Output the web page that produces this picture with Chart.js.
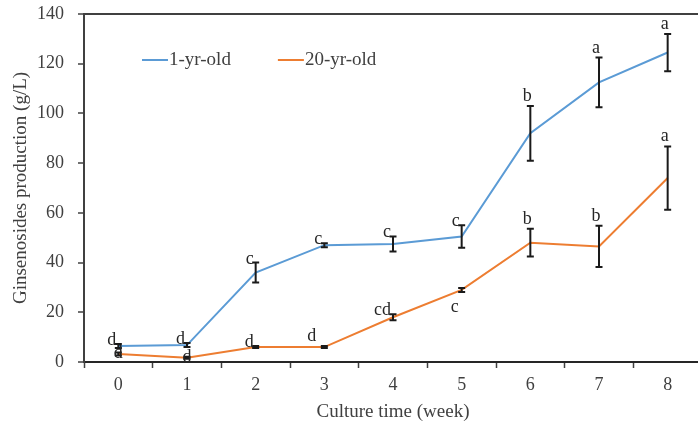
<!DOCTYPE html>
<html>
<head>
<meta charset="utf-8">
<script src="https://cdn.jsdelivr.net/npm/chart.js"></script>
<style>
  html, body { margin: 0; padding: 0; background: #fff; overflow: hidden; }
  #wrap { width: 704px; height: 426px; }
</style>
</head>
<body>
<div id="wrap"><canvas id="growthChart" width="704" height="426"></canvas></div>
<script>
// weeks of culture
const weeks = ['0', '1', '2', '3', '4', '5', '6', '7', '8'];

// 1-yr-old roots
const young = [6.4, 6.8, 36, 47, 47.5, 50.5, 92, 112.5, 124.5];
const youngErr = [0.8, 0.8, 4, 0.8, 3, 4.5, 11, 10, 7.5];
const youngLetters = ['d', 'd', 'c', 'c', 'c', 'c', 'b', 'a', 'a'];

// 20-yr-old roots
const old = [3.2, 1.7, 6, 6, 18, 29, 48, 46.5, 74];
const oldErr = [0.6, 0.4, 0.4, 0.4, 1.2, 0.8, 5.6, 8.3, 12.7];
const oldLetters = ['d', 'd', 'd', 'd', 'cd', 'c', 'b', 'b', 'a'];

const yTicks = [0, 20, 40, 60, 80, 100, 120, 140];

// where each significance letter sits relative to its point
const youngPlace = ['left', 'left', 'left', 'left', 'left', 'left', 'above', 'above', 'above'];
const oldPlace = ['on', 'on', 'left', 'upleft', 'left', 'below', 'above', 'above', 'above'];

const BLUE = '#5B9BD5';
const ORANGE = '#ED7D31';
const SERIF = '"Liberation Serif", "Times New Roman", serif';

// error bars + letters, drawn on top of the lines
const errorBarPlugin = {
    id: 'errorBars',
    afterDatasetsDraw(chart) {
        const ctx = chart.ctx;
        const x = chart.scales.x;
        const y = chart.scales.y;
        const sets = [
            { vals: young, err: youngErr, letters: youngLetters, place: youngPlace },
            { vals: old, err: oldErr, letters: oldLetters, place: oldPlace }
        ];
        ctx.save();
        sets.forEach(s => {
            s.vals.forEach((v, i) => {
                const px = x.getPixelForValue(i);
                const py = y.getPixelForValue(v);
                const top = y.getPixelForValue(v + s.err[i]);
                const bot = y.getPixelForValue(v - s.err[i]);
                ctx.strokeStyle = '#1a1a1a';
                ctx.lineWidth = 2;
                ctx.beginPath();
                ctx.moveTo(px, top); ctx.lineTo(px, bot);
                ctx.moveTo(px - 3.5, top); ctx.lineTo(px + 3.5, top);
                ctx.moveTo(px - 3.5, bot); ctx.lineTo(px + 3.5, bot);
                ctx.stroke();

                ctx.fillStyle = '#262626';
                ctx.font = '18px ' + SERIF;
                const mode = s.place[i];
                if (mode === 'above') {
                    ctx.textAlign = 'center';
                    ctx.textBaseline = 'alphabetic';
                    ctx.fillText(s.letters[i], px - 3, top - 5);
                } else if (mode === 'left') {
                    ctx.textAlign = 'right';
                    ctx.textBaseline = 'alphabetic';
                    ctx.fillText(s.letters[i], px - 2, top + 1);
                } else if (mode === 'upleft') {
                    ctx.textAlign = 'right';
                    ctx.textBaseline = 'alphabetic';
                    ctx.fillText(s.letters[i], px - 8, py - 6);
                } else if (mode === 'below') {
                    ctx.textAlign = 'center';
                    ctx.textBaseline = 'top';
                    ctx.fillText(s.letters[i], px - 7, py + 8);
                } else {
                    ctx.textAlign = 'center';
                    ctx.textBaseline = 'middle';
                    ctx.fillText(s.letters[i], px, py - 1);
                }
            });
        });
        ctx.restore();
    }
};

// legend drawn inside the plot area, top left
const insideLegend = {
    id: 'insideLegend',
    afterDraw(chart) {
        const ctx = chart.ctx;
        const area = chart.chartArea;
        const items = chart.data.datasets;
        let lx = area.left + 58;
        const ly = area.top + 46;
        ctx.save();
        ctx.font = '19px ' + SERIF;
        ctx.textBaseline = 'middle';
        ctx.textAlign = 'left';
        items.forEach(ds => {
            ctx.strokeStyle = ds.borderColor;
            ctx.lineWidth = 2;
            ctx.beginPath();
            ctx.moveTo(lx, ly);
            ctx.lineTo(lx + 26, ly);
            ctx.stroke();
            ctx.fillStyle = '#404040';
            ctx.fillText(ds.label, lx + 27, ly);
            lx += 27 + ctx.measureText(ds.label).width + 47;
        });
        ctx.restore();
    }
};

const ctxGrowth = document.getElementById('growthChart').getContext('2d');
const growthChart = new Chart(ctxGrowth, {
    type: 'line',
    data: {
        labels: weeks,
        datasets: [
            {
                label: '1-yr-old',
                data: young,
                borderColor: BLUE,
                borderWidth: 2,
                pointRadius: 0,
                tension: 0,
                fill: false
            },
            {
                label: '20-yr-old',
                data: old,
                borderColor: ORANGE,
                borderWidth: 2,
                pointRadius: 0,
                tension: 0,
                fill: false
            }
        ]
    },
    options: {
        responsive: false,
        animation: false,
        layout: { padding: { top: 14, right: 2, left: 0, bottom: 0 } },
        scales: {
            x: {
                offset: true,
                grid: {
                    offset: true,
                    color: 'transparent',
                    tickColor: '#404040',
                    tickLength: 6,
                    tickWidth: 1.5
                },
                border: { color: '#262626', width: 2 },
                ticks: {
                    color: '#404040',
                    padding: 6,
                    font: { family: SERIF, size: 18 }
                },
                title: {
                    display: true,
                    text: 'Culture time (week)',
                    color: '#404040',
                    font: { family: SERIF, size: 19 },
                    padding: { top: 0, bottom: 3 }
                },
                afterFit(scale) { scale.height = 64; }
            },
            y: {
                min: 0,
                max: 140,
                afterBuildTicks(scale) {
                    scale.ticks = yTicks.map(v => ({ value: v }));
                },
                grid: {
                    color: ctx => (ctx.tick && ctx.tick.value === 140 ? '#404040' : 'transparent'),
                    lineWidth: 2,
                    tickColor: '#404040',
                    tickLength: 6,
                    tickWidth: 1.5
                },
                border: { color: '#404040', width: 2 },
                ticks: {
                    color: '#404040',
                    padding: 14,
                    font: { family: SERIF, size: 18 }
                },
                title: {
                    display: true,
                    text: 'Ginsenosides production (g/L)',
                    color: '#404040',
                    font: { family: SERIF, size: 19 },
                    padding: { top: 10, bottom: 0 }
                },
                afterFit(scale) {
                    scale.width = 84;
                    scale.paddingTop = 0;
                    scale.paddingBottom = 0;
                }
            }
        },
        plugins: {
            legend: { display: false },
            tooltip: { enabled: false }
        }
    },
    plugins: [errorBarPlugin, insideLegend]
});
</script>
</body>
</html>
